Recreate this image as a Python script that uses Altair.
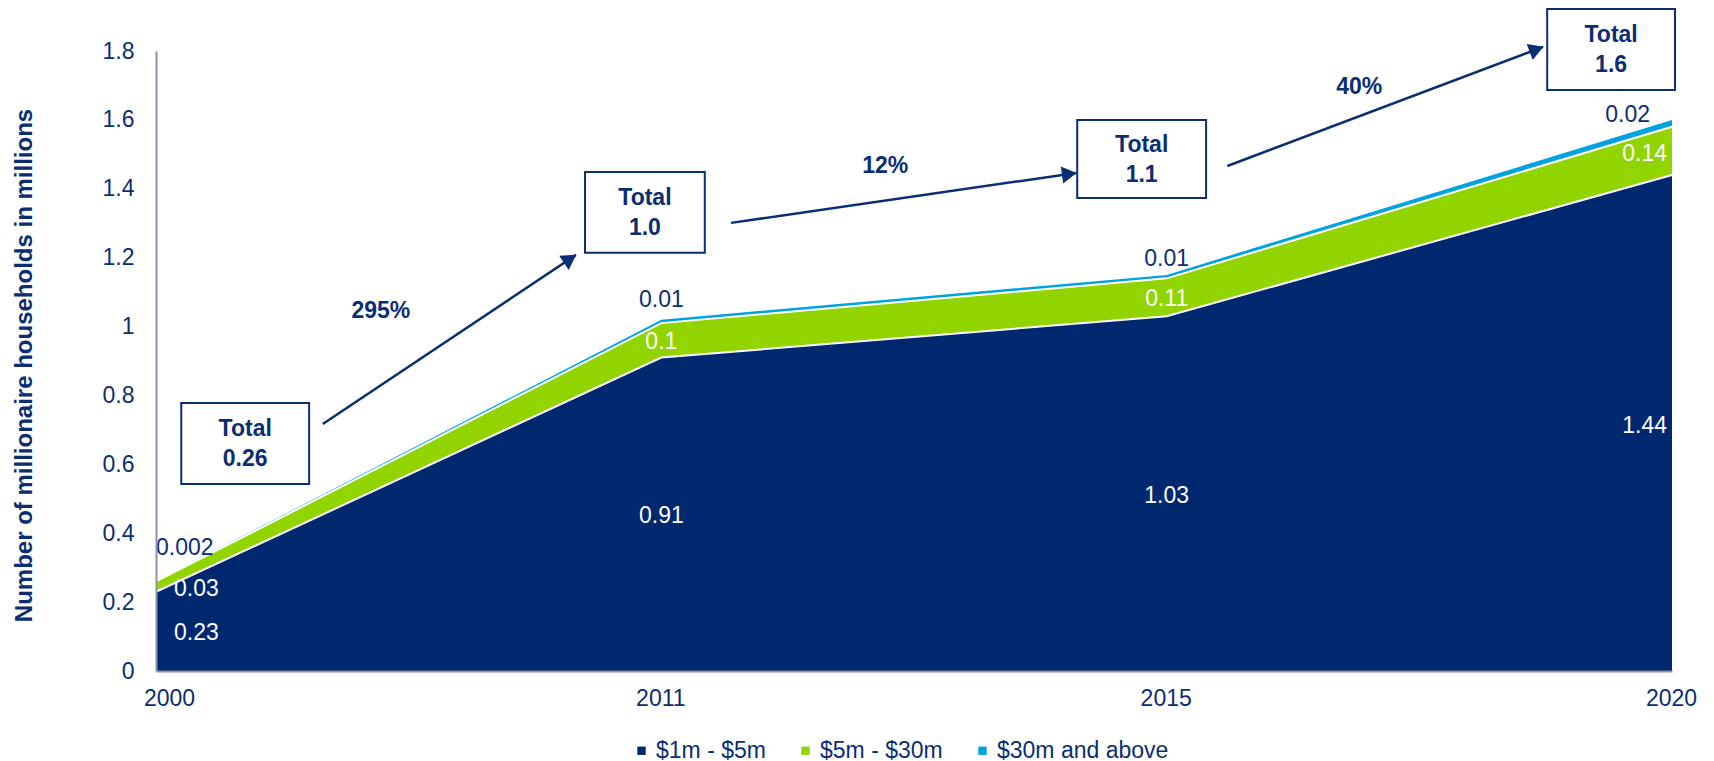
import json
import math
import altair as alt
import pandas as pd

# ---------------- data ----------------
years = ["2000", "2011", "2015", "2020"]
series = ["$1m - $5m", "$5m - $30m", "$30m and above"]
v_1_5 = [0.23, 0.91, 1.03, 1.44]
v_5_30 = [0.03, 0.1, 0.11, 0.14]
v_30 = [0.002, 0.01, 0.01, 0.02]
lab_1_5 = ["0.23", "0.91", "1.03", "1.44"]
lab_5_30 = ["0.03", "0.1", "0.11", "0.14"]
lab_30 = ["0.002", "0.01", "0.01", "0.02"]
total_text = ["0.26", "1.0", "1.1", "1.6"]
growth_text = ["295%", "12%", "40%"]
y_ticks = [0, 0.2, 0.4, 0.6, 0.8, 1, 1.2, 1.4, 1.6, 1.8]

# ---------------- annotation placement (data units: x = category index, y = value) ----
box_x1 = [0.050, 0.849, 1.823, 2.753]
box_x2 = [0.303, 1.086, 2.078, 3.006]
box_y1 = [0.543, 1.214, 1.373, 1.687]
box_y2 = [0.778, 1.449, 1.600, 1.922]
arrow_x1 = [0.330, 1.138, 2.120]
arrow_y1 = [0.717, 1.301, 1.466]
arrow_x2 = [0.831, 1.821, 2.745]
arrow_y2 = [1.208, 1.446, 1.812]
pct_x = [0.445, 1.443, 2.381]
pct_y = [1.045, 1.466, 1.695]

# ---------------- style ----------------
NAVY = "#0B2D72"
COLORS = ["#00286E", "#92D400", "#00A3E0"]
AXIS_GRAY = "#8C90A8"
FONT = "Liberation Sans"
FS = 23
W, H = 1516, 620
YMAX = 1.8
px_x = W / 3.0
px_y = H / YMAX

# ---------------- tables ----------------
vals = [v_1_5, v_5_30, v_30]
labs = [lab_1_5, lab_5_30, lab_30]
rows = []
for i, yr in enumerate(years):
    base = 0.0
    for s, name in enumerate(series):
        v = vals[s][i]
        rows.append(dict(x=i, year=yr, series=name, s=s, lo=base, y=base + v,
                         mid=base + v / 2, label=labs[s][i]))
        base += v
df = pd.DataFrame(rows)

boxes = pd.DataFrame(dict(x=box_x1, x2=box_x2, y=box_y1, y2=box_y2,
                          cx=[(a + b) / 2 for a, b in zip(box_x1, box_x2)],
                          cy=[(a + b) / 2 for a, b in zip(box_y1, box_y2)],
                          text=["Total\n" + t for t in total_text]))

arrow_rows, head_rows = [], []
for k in range(3):
    arrow_rows.append(dict(a=k, o=0, x=arrow_x1[k], y=arrow_y1[k]))
    arrow_rows.append(dict(a=k, o=1, x=arrow_x2[k], y=arrow_y2[k]))
    dxp = (arrow_x2[k] - arrow_x1[k]) * px_x
    dyp = -(arrow_y2[k] - arrow_y1[k]) * px_y
    L = math.hypot(dxp, dyp)
    ux, uy = dxp / L, dyp / L
    ang = math.degrees(math.atan2(dxp, -dyp)) % 360
    back = 7.0
    head_rows.append(dict(x=arrow_x2[k] - ux * back / px_x,
                          y=arrow_y2[k] + uy * back / px_y, ang=ang))
arrows = pd.DataFrame(arrow_rows)
heads = pd.DataFrame(head_rows)
pcts = pd.DataFrame(dict(x=pct_x, y=pct_y, text=growth_text))

label_expr = json.dumps(years) + "[datum.value]"


def X(field="x"):
    return alt.X(f"{field}:Q",
                 scale=alt.Scale(domain=[0, 3], nice=False, zero=False),
                 axis=alt.Axis(values=[0, 1, 2, 3], labelExpr=label_expr, title=None,
                               ticks=False, grid=False, domainColor=AXIS_GRAY,
                               domainWidth=2, labelFontSize=FS, labelColor=NAVY,
                               labelFont=FONT, labelPadding=16, labelFlush=False,
                               labelOffset={"condition": {"test": "datum.value == 0",
                                                          "value": 13},
                                            "value": -1},
                               zindex=1))


def Y(field="y"):
    return alt.Y(f"{field}:Q", stack=None,
                 scale=alt.Scale(domain=[0, YMAX], nice=False),
                 axis=alt.Axis(values=y_ticks, format="~g",
                               title="Number of millionaire households in millions",
                               titleFontSize=24, titleFontWeight="bold", titleColor=NAVY,
                               titleFont=FONT, titleX=-132, titleY=314, titleAngle=-90,
                               titleAlign="center", titleBaseline="middle",
                               ticks=False, grid=False, domainColor=AXIS_GRAY,
                               domainWidth=2, labelFontSize=FS, labelColor=NAVY,
                               labelFont=FONT, labelPadding=22, zindex=1))


area = alt.Chart(df).mark_area(interpolate="linear", opacity=1).encode(
    x=X(), y=Y(), y2=alt.Y2("lo:Q"),
    color=alt.Color("series:N", scale=alt.Scale(domain=series, range=COLORS),
                    legend=alt.Legend(orient="none", direction="horizontal",
                                      legendX=474, legendY=688, title=None,
                                      symbolType="square", symbolSize=70,
                                      symbolStrokeWidth=0, labelFontSize=FS,
                                      labelColor=NAVY, labelFont=FONT, labelLimit=0,
                                      columnPadding=28, labelOffset=3)),
)

seps = alt.Chart(df[df.s < 2]).mark_line(color="white", strokeWidth=2).encode(
    x=X(), y=Y(), detail="series:N", order=alt.Order("x:Q"))

inner = df[df.s < 2]
top = df[df.s == 2]


def txt(data, align, dx, dy, color, yfield):
    return alt.Chart(data).mark_text(align=align, baseline="middle", dx=dx, dy=dy,
                                     fontSize=FS, font=FONT, color=color).encode(
        x=X(), y=Y(yfield), text="label:N")


texts = [
    txt(inner[inner.x == 0], "left", 18, 2, "white", "mid"),
    txt(inner[(inner.x > 0) & (inner.x < 3)], "center", 0, 2, "white", "mid"),
    txt(inner[inner.x == 3], "right", -5, 3, "white", "mid"),
    txt(top[top.x == 0], "left", 0, -33, NAVY, "y"),
    txt(top[top.x == 1], "center", 0, -20, NAVY, "y"),
    txt(top[top.x == 2], "center", 0, -16, NAVY, "y"),
    txt(top[top.x == 3], "right", -22, -5, NAVY, "y"),
]

rects = alt.Chart(boxes).mark_rect(fill="white", stroke=NAVY, strokeWidth=2).encode(
    x=X(), x2="x2:Q", y=Y(), y2="y2:Q")
box_text = alt.Chart(boxes).mark_text(fontSize=FS, font=FONT, fontWeight="bold",
                                      color=NAVY, lineBreak="\n", lineHeight=30, dy=-14,
                                      baseline="middle", align="center").encode(
    x=X("cx"), y=Y("cy"), text="text:N")

arrow_lines = alt.Chart(arrows).mark_line(color=NAVY, strokeWidth=2.5).encode(
    x=X(), y=Y(), detail="a:N", order=alt.Order("o:Q"))
arrow_heads = alt.Chart(heads).mark_point(shape="triangle-up", filled=True, size=290,
                                          color=NAVY, opacity=1).encode(
    x=X(), y=Y(), angle=alt.Angle("ang:Q", scale=None))
pct_text = alt.Chart(pcts).mark_text(fontSize=FS, font=FONT, fontWeight="bold",
                                     color=NAVY, baseline="middle", align="center").encode(
    x=X(), y=Y(), text="text:N")

chart = alt.layer(area, seps, *texts, arrow_lines, arrow_heads, rects, box_text,
                  pct_text).properties(
    width=W, height=H,
    autosize=alt.AutoSizeParams(type="none"),
    padding={"left": 148, "top": 43, "right": 26, "bottom": 100},
).configure(font=FONT).configure_view(stroke=None)

chart.save("out.html", embed_options={"renderer": "svg", "actions": False})
